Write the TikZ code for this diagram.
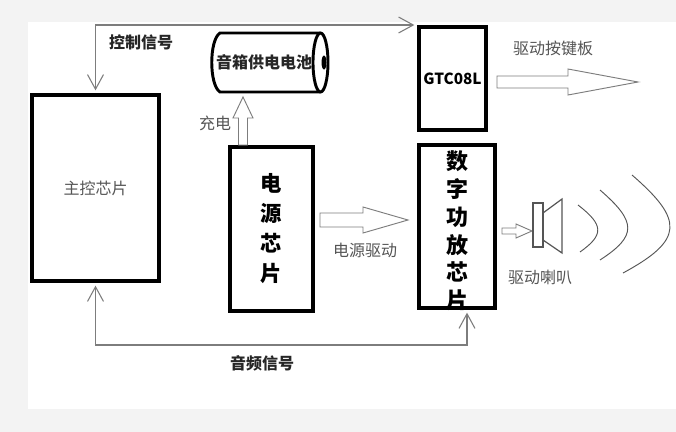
\documentclass[tikz,border=0pt]{standalone}
\usepackage{fontspec}
\setmainfont{Noto Sans CJK SC}
\usetikzlibrary{arrows.meta,positioning}
\definecolor{bggray}{RGB}{243,243,243}
\definecolor{txtgray}{RGB}{85,85,85}
\definecolor{lngray}{RGB}{125,125,125}
\begin{document}
\begin{tikzpicture}[x=0.75pt,y=-0.75pt,
  chip/.style={draw=black,line width=3pt,inner sep=0pt},
  sig/.style={draw=lngray,line width=0.8pt,shorten <=2pt,shorten >=2pt,
    {Straight Barb[length=11pt,width=12pt]}-{Straight Barb[length=11pt,width=12pt]}},
  hollow/.style={draw=lngray,fill=white,line width=0.7pt},
  lbl/.style={text=txtgray,font=\fontsize{12}{14}\selectfont},
  blbl/.style={text=black!85,font=\bfseries\fontsize{12}{14}\selectfont},
  wave/.style={draw=txtgray,line width=0.7pt}]

\useasboundingbox (0,0) rectangle (676,432);
\fill[bggray] (0,0) rectangle (676,432);
\fill[white] (28,22) rectangle (676,409);

\node[chip,minimum width=95.25pt,minimum height=139.5pt,lbl] (main) at (95.5,188) {主控芯片};
\node[chip,minimum width=62.25pt,minimum height=123pt,align=center,
  font=\bfseries\fontsize{16}{22.5}\selectfont] (pwr) at (271.5,229) {电\\源\\芯\\片};
\node[chip,minimum width=50.25pt,minimum height=77.25pt,
  font=\bfseries\fontsize{11.5}{14}\selectfont] (gtc) at (452.5,78.5) {GTC08L};
\node[chip,minimum width=57pt,minimum height=122.25pt] (amp) at (457,226.5) {};
\node[align=center,font=\bfseries\fontsize{16.5}{20.8}\selectfont] (ampt) at (457,231) {数\\字\\功\\放\\芯\\片};

\draw[line width=2.2pt] (320,33) -- (220,33) .. controls (209,40) and (209,85) .. (220,92) -- (320,92);
\draw[line width=2.2pt,fill=white] (320.5,62.5) ellipse [x radius=7.5, y radius=29.5];
\fill (324,62.5) ellipse [x radius=2.5, y radius=7];
\node[blbl] (bat) at (264,62) {音箱供电电池};

\draw[sig] (main.north) |- (gtc.north west);
\draw[sig] (main.south) -- ++(0,62) -| ([xshift=7.5pt]amp.south);

\draw[hollow] (238.5,145) -- (238.5,118) -- (233,118) -- (243,97) -- (253,118) -- (247.5,118) -- (247.5,145) -- cycle;
\draw[hollow] (320,213) -- (363,213) -- (363,207) -- (408,220) -- (363,233) -- (363,227) -- (320,227) -- cycle;
\draw[hollow] (497,76) -- (568,76) -- (568,69) -- (638,82) -- (568,95) -- (568,88) -- (497,88) -- cycle;
\draw[hollow] (502,228) -- (516,228) -- (516,224) -- (532,231) -- (516,238) -- (516,234) -- (502,234) -- cycle;

\draw[draw=txtgray,line width=0.9pt] (533,203) rectangle (543,247);
\draw[draw=txtgray,line width=0.9pt] (543,213) -- (562,199) -- (562,253) -- (543,240);
\draw[wave] (578,205) .. controls (604,225) and (604,235) .. (580,252);
\draw[wave] (600,190) .. controls (637,222) and (637,236) .. (600,260);
\draw[wave] (632,175) .. controls (684,220) and (684,240) .. (623,273);

\node[blbl] (ctl) at (141,42) {控制信号};
\node[lbl] (chg) at (215,123) {充电};
\node[lbl] (pwd) at (365,250) {电源驱动};
\node[lbl] (kbd) at (553,48) {驱动按键板};
\node[lbl] (spk) at (540,277) {驱动喇叭};
\node[blbl] (aud) at (262,363) {音频信号};
\end{tikzpicture}
\end{document}
